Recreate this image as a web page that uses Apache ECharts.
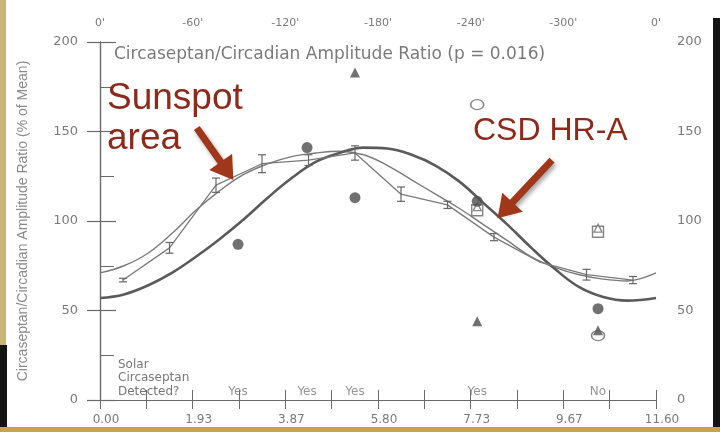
<!DOCTYPE html>
<html><head><meta charset="utf-8">
<script src="https://cdn.jsdelivr.net/npm/echarts@6.0.0/dist/echarts.min.js"></script>
<style>html,body{margin:0;padding:0;background:#fff;}#c{width:720px;height:432px;}</style>
</head><body><div id="c"></div>
<script>
// ---- data ----
const degTicks = [0, 60, 120, 180, 240, 300, 360];
const yMinorTicks = [25, 75, 125, 175];

// thick fitted curve (CSD HR-A)
const thickX = [0, 0.5, 1.0, 1.5, 2.0, 2.5, 3.0, 3.5, 4.0, 4.5, 5.0, 5.5, 6.0, 6.5, 7.0, 7.5, 8.0, 8.5, 9.0, 9.5, 10.0, 10.5, 11.0, 11.6];
const thickY = [57, 59, 64, 71, 80, 90, 101, 113, 124, 133, 138, 141, 140.5, 137, 131, 122, 110, 98, 85, 73, 63, 57.5, 55.5, 57];

// thin fitted curve (sunspot area)
const thinX = [0, 0.5, 1.0, 1.5, 2.0, 2.5, 3.0, 3.5, 4.0, 4.5, 5.0, 5.5, 6.0, 6.5, 7.0, 7.5, 8.0, 8.5, 9.0, 9.5, 10.0, 10.5, 11.0, 11.6];
const thinY = [71, 75, 82, 93, 106, 117, 126, 132, 136, 138, 139, 137, 131, 123, 115, 107, 98, 89, 80, 74, 70, 67.5, 66.5, 71];

// jagged data line with error bars
const jagX = [0.48, 1.45, 2.42, 3.38, 4.35, 5.32, 6.28, 7.25, 8.22, 9.18, 10.15, 11.12];
const jagY = [67, 85, 120, 132, 134, 138, 115, 109, 91, 77, 70, 67];
const jagErr = [1, 3, 4, 5, 3, 4, 4, 2, 2, 0, 3, 2];

// markers
const filledCircles = [[2.88, 87], [4.32, 141], [5.32, 113], [7.87, 111], [10.39, 51]];
const filledTriangles = [[5.32, 183], [7.87, 44], [10.39, 39]];
const openCircles = [[7.87, 165], [10.39, 36]];
const openSquares = [[7.87, 106], [10.39, 94]];
const openTriangles = [[7.87, 108], [10.39, 96]];

// "Solar Circaseptan Detected?" row
const detectX = [2.88, 4.32, 5.32, 7.87, 10.39];
const detectText = ['Yes', 'Yes', 'Yes', 'Yes', 'No'];
const detectLevel = 4.5;

// annotation arrows [start, symbol-centre]
const sunArrow = [[2.02, 152], [2.65, 128]];
const csdArrow = [[9.43, 134], [8.45, 106]];

const zip = (a, b) => a.map((v, i) => [v, b[i]]);
const axisColor = '#6a6a6a';
const labelColor = '#7a7a7a';
const F = "'DejaVu Sans', sans-serif";

const chart = echarts.init(document.getElementById('c'), null, {renderer: 'canvas'});

const baseX = {type: 'value', min: 0, max: 11.6, splitLine: {show: false}};
const baseY = {type: 'value', min: 0, max: 200, interval: 50, splitLine: {show: false}};

chart.setOption({
  animation: false,
  backgroundColor: '#fff',
  grid: {left: 100, right: 64, top: 42, bottom: 32, containLabel: false},
  xAxis: [
    Object.assign({}, baseX, {
      position: 'bottom', interval: 11.6 / 6,
      axisLine: {lineStyle: {color: axisColor, width: 1.2}},
      axisTick: {length: 9, lineStyle: {color: axisColor}},
      minorTick: {show: true, splitNumber: 2, length: 9, lineStyle: {color: axisColor}},
      axisLabel: {margin: 14, color: labelColor, fontSize: 12, fontFamily: F, padding: [0, 0, 0, 12],
        formatter: v => v.toFixed(2)}
    }),
    Object.assign({}, baseX, {
      position: 'bottom', offset: 9, interval: 11.6 / 6,
      axisLine: {lineStyle: {color: axisColor, width: 1.2}},
      axisTick: {show: false}, axisLabel: {show: false}
    }),
    {type: 'value', position: 'top', min: degTicks[0], max: degTicks[degTicks.length - 1], interval: 60, splitLine: {show: false},
      axisLine: {lineStyle: {color: axisColor, width: 1.2}},
      axisTick: {length: 10, lineStyle: {color: axisColor}},
      minorTick: {show: true, splitNumber: 2, length: 10, lineStyle: {color: axisColor}},
      axisLabel: {margin: 13, color: labelColor, fontSize: 11, fontFamily: F,
        formatter: v => (v === 0 || v === 360) ? "0'" : ('-' + v + "'")}
    },
    {type: 'value', position: 'top', offset: 10, min: 0, max: 360, interval: 60, splitLine: {show: false},
      axisLine: {lineStyle: {color: axisColor, width: 1.2}},
      axisTick: {show: false}, axisLabel: {show: false}
    }
  ],
  yAxis: [
    Object.assign({}, baseY, {
      position: 'left',
      axisLine: {show: true, lineStyle: {color: axisColor, width: 1.2}},
      axisTick: {show: true, inside: false, length: 13, lineStyle: {color: axisColor, width: 1.2}},
      axisLabel: {margin: 22, color: labelColor, fontSize: 13, fontFamily: F},
      name: 'Circaseptan/Circadian Amplitude Ratio (% of Mean)',
      nameLocation: 'middle', nameGap: 70,
      nameTextStyle: {color: '#8a8a8a', fontSize: 14, fontFamily: "'Liberation Sans Narrow', 'Liberation Sans', sans-serif"}
    }),
    Object.assign({}, baseY, {
      position: 'right',
      axisLine: {show: true, lineStyle: {color: axisColor, width: 1.2}},
      axisTick: {show: true, inside: false, length: 16, lineStyle: {color: axisColor, width: 1.2}},
      axisLabel: {margin: 21, color: labelColor, fontSize: 13, fontFamily: F}
    }),
    Object.assign({}, baseY, {
      position: 'left', offset: -7, axisLine: {show: false},
      axisTick: {show: true, inside: false, length: 7, customValues: yMinorTicks, lineStyle: {color: axisColor}},
      axisLabel: {show: false}
    }),
    Object.assign({}, baseY, {
      position: 'right', offset: -7, axisLine: {show: false},
      axisTick: {show: true, inside: false, length: 7, customValues: yMinorTicks, lineStyle: {color: axisColor}},
      axisLabel: {show: false}
    })
  ],
  series: [
    {type: 'line', name: 'thin fit', data: zip(thinX, thinY), smooth: 0.4, showSymbol: false,
      lineStyle: {color: '#7a7a7a', width: 1.4}, z: 2},
    {type: 'line', name: 'thick fit', data: zip(thickX, thickY), smooth: 0.4, showSymbol: false,
      lineStyle: {color: '#5a5a5a', width: 2.6}, z: 2},
    {type: 'line', name: 'data', data: zip(jagX, jagY), showSymbol: false,
      lineStyle: {color: '#7a7a7a', width: 1.3}, z: 2,
      markLine: {
        silent: true, animation: false,
        symbol: ['none', 'triangle'], symbolSize: [28, 22],
        label: {show: false},
        lineStyle: {color: '#a0361a', width: 7, type: 'solid', shadowColor: 'rgba(0,0,0,0.35)', shadowBlur: 4, shadowOffsetX: 2, shadowOffsetY: 3},
        itemStyle: {color: '#a0361a'},
        data: [
          [{coord: sunArrow[0]}, {coord: sunArrow[1]}],
          [{coord: csdArrow[0]}, {coord: csdArrow[1]}]
        ]
      }
    },
    {type: 'custom', name: 'err', data: jagX.map((x, i) => [x, jagY[i], jagErr[i]]), z: 3,
      renderItem: (params, api) => {
        const x = api.value(0), y = api.value(1), e = api.value(2);
        if (!e) return {type: 'group', children: []};
        const t = api.coord([x, y + e]), b = api.coord([x, y - e]);
        const hw = 4, st = {stroke: '#666', lineWidth: 1.2};
        return {type: 'group', children: [
          {type: 'line', shape: {x1: t[0], y1: t[1], x2: b[0], y2: b[1]}, style: st},
          {type: 'line', shape: {x1: t[0] - hw, y1: t[1], x2: t[0] + hw, y2: t[1]}, style: st},
          {type: 'line', shape: {x1: b[0] - hw, y1: b[1], x2: b[0] + hw, y2: b[1]}, style: st}
        ]};
      }
    },
    {type: 'scatter', name: 'open squares', data: openSquares, symbol: 'rect', symbolSize: 11,
      itemStyle: {color: '#fff', borderColor: '#666', borderWidth: 1.4}, z: 4},
    {type: 'scatter', name: 'open triangles', data: openTriangles, symbol: 'triangle', symbolSize: 8,
      itemStyle: {color: '#fff', borderColor: '#666', borderWidth: 1.3}, z: 5},
    {type: 'scatter', name: 'open circles', data: openCircles, symbol: 'circle', symbolSize: [13, 10],
      itemStyle: {color: '#fff', borderColor: '#666', borderWidth: 1.4}, z: 4},
    {type: 'scatter', name: 'filled circles', data: filledCircles, symbol: 'circle', symbolSize: 11,
      itemStyle: {color: '#4d4d4d'}, z: 5},
    {type: 'scatter', name: 'filled triangles', data: filledTriangles, symbol: 'triangle', symbolSize: 10,
      itemStyle: {color: '#4d4d4d'}, z: 6},
    {type: 'scatter', name: 'detected', data: detectX.map((x, i) => [x, detectLevel, detectText[i]]),
      symbolSize: 0, silent: true, z: 6,
      label: {show: true, position: 'inside', formatter: p => p.value[2], color: labelColor, fontSize: 12, fontFamily: F}
    }
  ],
  graphic: [
    {type: 'rect', left: 0, top: 0, shape: {width: 6, height: 345}, style: {fill: '#c9b57a'}, silent: true},
    {type: 'rect', left: 0, top: 345, shape: {width: 7, height: 82}, style: {fill: '#141414'}, silent: true},
    {type: 'rect', left: 0, top: 427, shape: {width: 720, height: 5}, style: {fill: '#c7a34e'}, silent: true},
    {type: 'rect', left: 713, top: 18, shape: {width: 7, height: 409}, style: {fill: '#141414'}, silent: true},
    {type: 'text', left: 114, top: 46, silent: true,
      style: {text: 'Circaseptan/Circadian Amplitude Ratio (p = 0.016)', fill: '#7a7a7a', fontSize: 17, fontFamily: F}},
    {type: 'text', left: 118, top: 358, silent: true,
      style: {text: 'Solar\nCircaseptan\nDetected?', fill: '#777', fontSize: 12, lineHeight: 13.5, fontFamily: F}},
    {type: 'text', left: 107, top: 79, silent: true, z: 10,
      style: {text: 'Sunspot\narea', fill: '#8c2a1c', fontSize: 37, lineHeight: 40, fontFamily: "'Liberation Sans', Arial, sans-serif"}},
    {type: 'text', left: 473, top: 115, silent: true, z: 10,
      style: {text: 'CSD HR-A', fill: '#8c2a1c', fontSize: 32, fontFamily: "'Liberation Sans', Arial, sans-serif"}}
  ]
});
</script>
</body></html>
